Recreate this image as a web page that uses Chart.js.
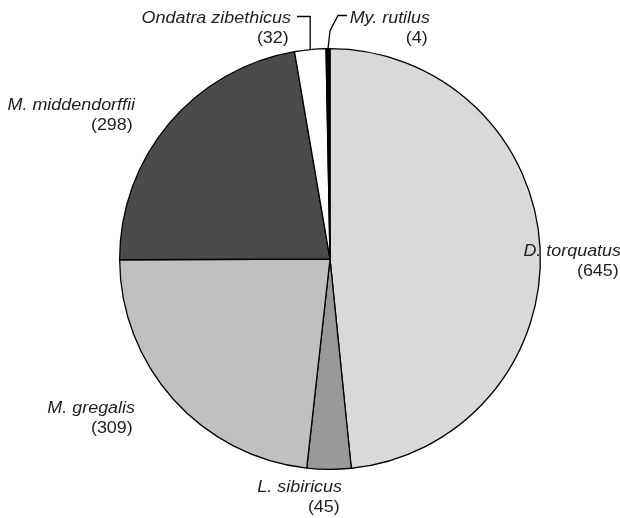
<!DOCTYPE html>
<html>
<head>
<meta charset="utf-8">
<script src="https://cdn.jsdelivr.net/npm/chart.js@4"></script>
<style>
  html, body { margin: 0; padding: 0; background: #fff; }
  #wrap { width: 620px; height: 518px; }
</style>
</head>
<body>
<div id="wrap"><canvas id="pie" width="620" height="518"></canvas></div>
<script>
const species = ['D. torquatus', 'L. sibiricus', 'M. gregalis', 'M. middendorffii', 'Ondatra zibethicus', 'My. rutilus']
const counts = [645, 45, 309, 298, 32, 4]

const fills = ['#d9d9d9', '#999999', '#c0c0c0', '#4b4b4b', '#ffffff', '#000000']
// right edge and name baseline of each label block, in canvas px
const labelAt = [[621, 256], [342, 492], [135, 413], [135, 110], [291, 23], [430, 23]]

const labelPlugin = {
  id: 'pieLabels',
  afterDatasetsDraw(chart) {
    const ctx = chart.ctx
    const arcs = chart.getDatasetMeta(0).data
    ctx.save()
    ctx.fillStyle = '#1e1e1e'
    ctx.textAlign = 'right'
    ctx.textBaseline = 'alphabetic'
    const sx = 1.12 // the source lettering is a bit wide
    species.forEach((name, i) => {
      const [x, y] = labelAt[i]
      ctx.save()
      ctx.translate(x, y)
      ctx.scale(sx, 1)
      ctx.font = 'italic 16px "Liberation Sans", Arial, sans-serif'
      ctx.fillText(name, 0, 0)
      ctx.font = '16px "Liberation Sans", Arial, sans-serif'
      ctx.fillText('(' + counts[i] + ')', -2, 20)
      ctx.restore()
    })
    // leader lines for the two thin slices, ending on the arc edge
    ctx.strokeStyle = '#000'
    ctx.lineWidth = 1.3
    const edge = (i) => {
      const a = arcs[i]
      const mid = (a.startAngle + a.endAngle) / 2
      return [a.x + Math.cos(mid) * a.outerRadius, a.y + Math.sin(mid) * a.outerRadius]
    }
    let [ex, ey] = edge(4)
    ctx.beginPath()
    ctx.moveTo(297, 16.5)
    ctx.lineTo(ex, 16.5)
    ctx.lineTo(ex, ey)
    ctx.stroke()
    ;[ex, ey] = edge(5)
    ctx.beginPath()
    ctx.moveTo(347, 15.5)
    ctx.lineTo(338, 15.5)
    ctx.lineTo(ex + 2, ey - 18)
    ctx.lineTo(ex, ey)
    ctx.stroke()
    ctx.restore()
  }
}

new Chart(document.getElementById('pie'), {
  type: 'pie',
  data: {
    labels: species,
    datasets: [{
      data: counts,
      backgroundColor: fills,
      borderColor: '#000',
      borderWidth: 1.3
    }]
  },
  options: {
    responsive: false,
    animation: false,
    layout: { padding: { left: 119, right: 79, top: 48, bottom: 48 } },
    plugins: {
      legend: { display: false },
      tooltip: { enabled: false }
    }
  },
  plugins: [labelPlugin]
})
</script>
</body>
</html>
